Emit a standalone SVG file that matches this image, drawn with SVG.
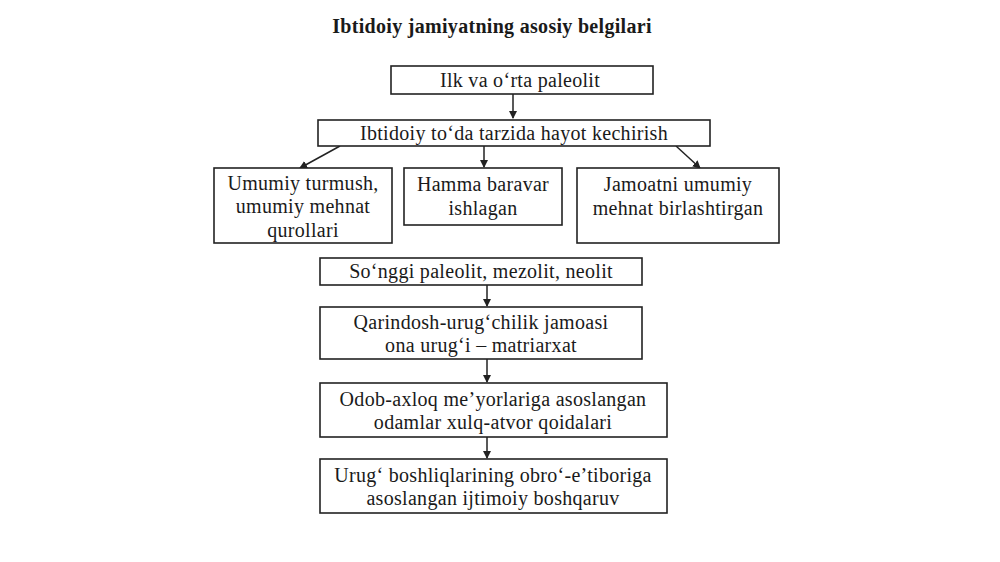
<svg xmlns="http://www.w3.org/2000/svg" width="1000" height="562" viewBox="0 0 1000 562">
<style>
.b{fill:#fff;stroke:#222;stroke-width:1.6}
.t{font-family:"Liberation Serif",serif;font-size:20px;letter-spacing:0.3px;fill:#1a1a1a;text-anchor:middle}
.c{stroke:#222;stroke-width:1.5;fill:none;marker-end:url(#a)}
</style>
<defs><marker id="a" markerWidth="8" markerHeight="8" refX="7" refY="4" orient="auto" markerUnits="userSpaceOnUse"><path d="M0,0L8,4L0,8z" fill="#222"/></marker></defs>
<rect width="1000" height="562" fill="#fff"/>
<text class="t" x="492" y="33" font-weight="bold" font-size="17" letter-spacing="0">Ibtidoiy jamiyatning asosiy belgilari</text>
<g id="connectors">
<path class="c" d="M513,94V118"/>
<path class="c" d="M340,146L300,168"/>
<path class="c" d="M484,146V167"/>
<path class="c" d="M676,146L700,168"/>
<path class="c" d="M487,285V306"/>
<path class="c" d="M487,359V382"/>
<path class="c" d="M487,437V458"/>
</g>
<g id="n1"><rect class="b" x="391" y="66" width="262" height="28"/><text class="t" x="520" y="87">Ilk va o‘rta paleolit</text></g>
<g id="n2"><rect class="b" x="318" y="120" width="392" height="26"/><text class="t" x="514" y="140">Ibtidoiy to‘da tarzida hayot kechirish</text></g>
<g id="n3"><rect class="b" x="214" y="168" width="178" height="75"/><text class="t" x="303" y="190">Umumiy turmush,</text><text class="t" x="303" y="213">umumiy mehnat</text><text class="t" x="303" y="237">qurollari</text></g>
<g id="n4"><rect class="b" x="404" y="168" width="158" height="57"/><text class="t" x="483" y="191">Hamma baravar</text><text class="t" x="483" y="215">ishlagan</text></g>
<g id="n5"><rect class="b" x="577" y="168" width="202" height="75"/><text class="t" x="678" y="191">Jamoatni umumiy</text><text class="t" x="678" y="215">mehnat birlashtirgan</text></g>
<g id="n6"><rect class="b" x="320" y="258" width="322" height="27"/><text class="t" x="481" y="278">So‘nggi paleolit, mezolit, neolit</text></g>
<g id="n7"><rect class="b" x="320" y="307" width="322" height="52"/><text class="t" x="481" y="329">Qarindosh-urug‘chilik jamoasi</text><text class="t" x="481" y="352">ona urug‘i – matriarxat</text></g>
<g id="n8"><rect class="b" x="320" y="383" width="347" height="54"/><text class="t" x="493" y="406">Odob-axloq me’yorlariga asoslangan</text><text class="t" x="493" y="429">odamlar xulq-atvor qoidalari</text></g>
<g id="n9"><rect class="b" x="320" y="459" width="347" height="54"/><text class="t" x="493" y="482">Urug‘ boshliqlarining obro‘-e’tiboriga</text><text class="t" x="493" y="505">asoslangan ijtimoiy boshqaruv</text></g>
</svg>
